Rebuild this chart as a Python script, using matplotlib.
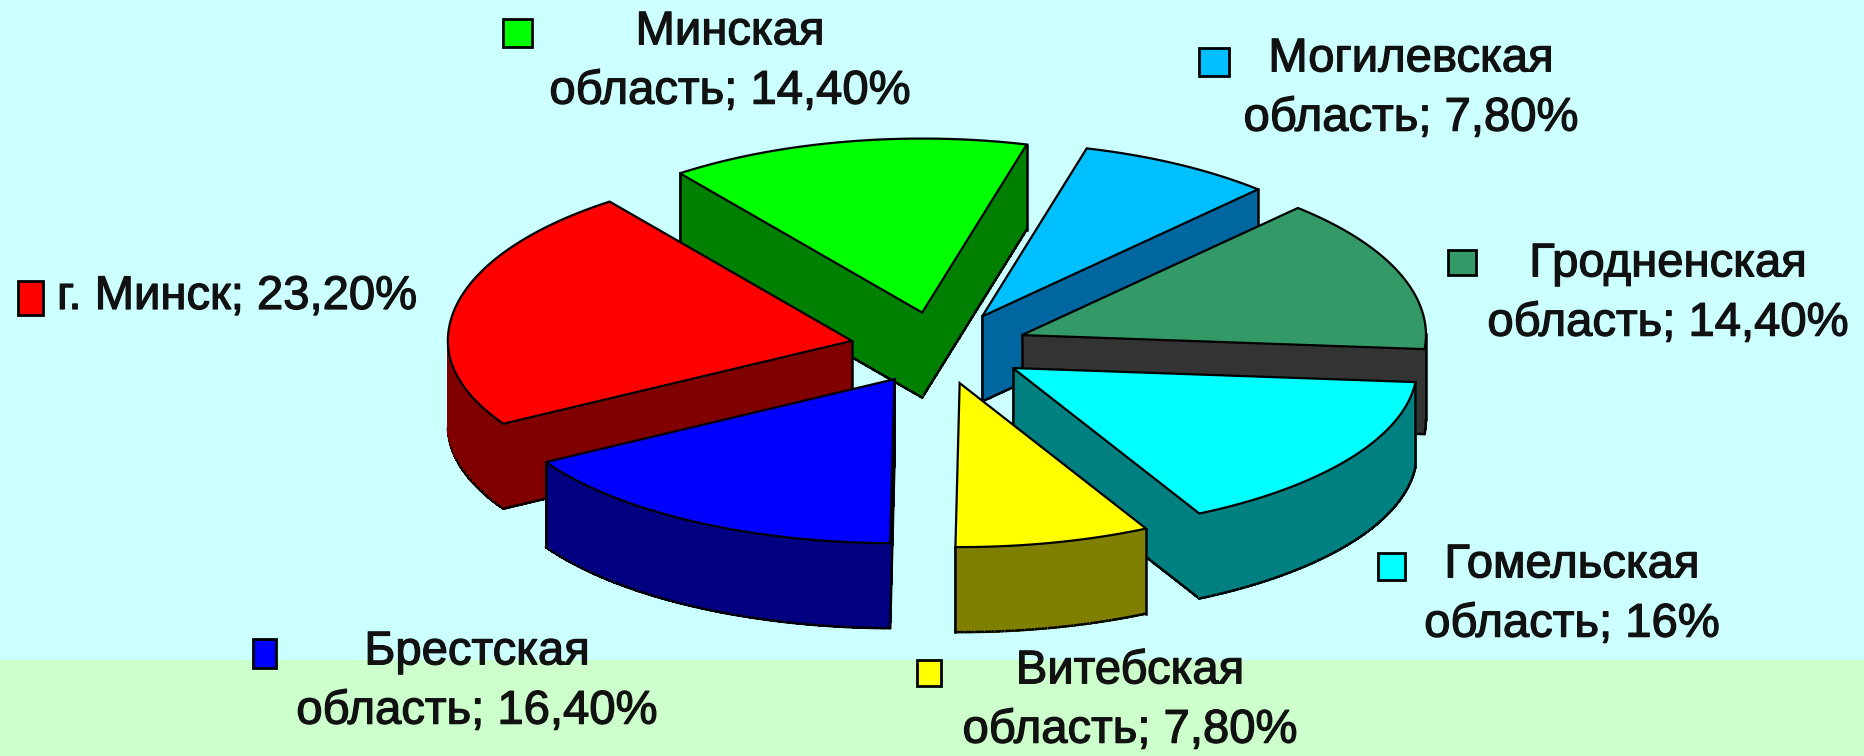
import numpy as np
from matplotlib import pyplot as plt
from matplotlib.patches import Polygon, Rectangle
import matplotlib.patheffects as pe

# clockwise from the start angle
regions = ['Могилевская', 'Гродненская', 'Гомельская', 'Витебская', 'Брестская', 'г. Минск', 'Минская']
shares = [7.8, 14.4, 16.0, 7.8, 16.4, 23.2, 14.4]
share_labels = ['7,80%', '14,40%', '16%', '7,80%', '16,40%', '23,20%', '14,40%']

top_colors = ['#00BFFF', '#339966', '#00FFFF', '#FFFF00', '#0000FF', '#FF0000', '#00FF00']
side_colors = ['#0066A0', '#333333', '#008080', '#808000', '#000080', '#800000', '#008000']

W, H = 1864, 756
CX, CY = 939, 348
RX = 404
RY_BACK, RY_FRONT = 174, 164
DEPTH = 85
EXPLODE = 0.22
START = 75

# label text anchor, legend box (x, y, w, h) in pixels
label_pos = [(1411, 89), (1668, 294), (1572, 595), (1130, 701), (477, 682), (57, 297), (730, 62)]
box_pos = [(1199, 48, 30, 28), (1448, 250, 28, 25), (1378, 553, 27, 27), (917, 660, 24, 26),
           (253, 639, 23, 29), (18, 281, 25, 34), (503, 19, 29, 28)]


def slice_outline(a0, a1, ox, oy):
    t = np.radians(np.linspace(a0, a1, 60))
    ry = np.where(np.sin(t) > 0, RY_BACK, RY_FRONT)
    xs = ox + RX * np.cos(t)
    ys = oy - ry * np.sin(t)
    return np.concatenate([[ox], xs]), np.concatenate([[oy], ys])


fig = plt.figure(figsize=(W / 100, H / 100), dpi=100)
ax = fig.add_axes([0, 0, 1, 1])
ax.set_xlim(0, W)
ax.set_ylim(H, 0)
ax.axis('off')
ax.add_patch(Rectangle((0, 0), W, 660, fc='#CCFFFF', ec='none', zorder=0))
ax.add_patch(Rectangle((0, 660), W, H - 660, fc='#CCFFCC', ec='none', zorder=0))

sweeps = np.array(shares) / sum(shares) * 360
ends = START - np.cumsum(sweeps)
starts = ends + sweeps
mids = np.radians((starts + ends) / 2)

# back slices first so the front ones paint over them
order = np.argsort(-np.sin(mids))
for z, i in enumerate(order):
    ox = CX + EXPLODE * RX * np.cos(mids[i])
    oy = CY - EXPLODE * RY_FRONT * np.sin(mids[i])
    xs, ys = slice_outline(ends[i], starts[i], ox, oy)
    zb = 2 + z * 2
    n = len(xs)
    for k in range(n):
        j = (k + 1) % n
        # outline runs counter clockwise, so an edge going right faces the viewer
        if xs[j] <= xs[k]:
            continue
        quad = [(xs[k], ys[k]), (xs[j], ys[j]), (xs[j], ys[j] + DEPTH), (xs[k], ys[k] + DEPTH)]
        ax.add_patch(Polygon(quad, fc=side_colors[i], ec=side_colors[i], lw=1.0, antialiased=False, zorder=zb))
        ax.plot([xs[k], xs[j]], [ys[k] + DEPTH, ys[j] + DEPTH], color='black', lw=1.8, zorder=zb,
                solid_capstyle='round')
        # silhouette verticals at the ends of a visible run
        if xs[k] <= xs[k - 1]:
            ax.plot([xs[k], xs[k]], [ys[k], ys[k] + DEPTH], color='black', lw=1.8, zorder=zb)
        if xs[(j + 1) % n] <= xs[j]:
            ax.plot([xs[j], xs[j]], [ys[j], ys[j] + DEPTH], color='black', lw=1.8, zorder=zb)
    ax.add_patch(Polygon(np.column_stack([xs, ys]), fc=top_colors[i], ec='black', lw=1.6, zorder=zb + 1))

for i, name in enumerate(regions):
    bx, by, bw, bh = box_pos[i]
    ax.add_patch(Rectangle((bx, by), bw, bh, fc=top_colors[i], ec='black', lw=2, zorder=30))
    if name == 'г. Минск':
        txt = f'{name}; {share_labels[i]}'
        ha = 'left'
    else:
        txt = f'{name}\nобласть; {share_labels[i]}'
        ha = 'center'
    t = ax.text(label_pos[i][0], label_pos[i][1], txt, family='Liberation Sans', fontsize=34,
                ha=ha, va='center', multialignment='center', linespacing=1.45,
                color='#111111', zorder=31)
    t.set_path_effects([pe.withStroke(linewidth=0.9, foreground='#111111')])

fig.savefig('out.png', dpi=100)
